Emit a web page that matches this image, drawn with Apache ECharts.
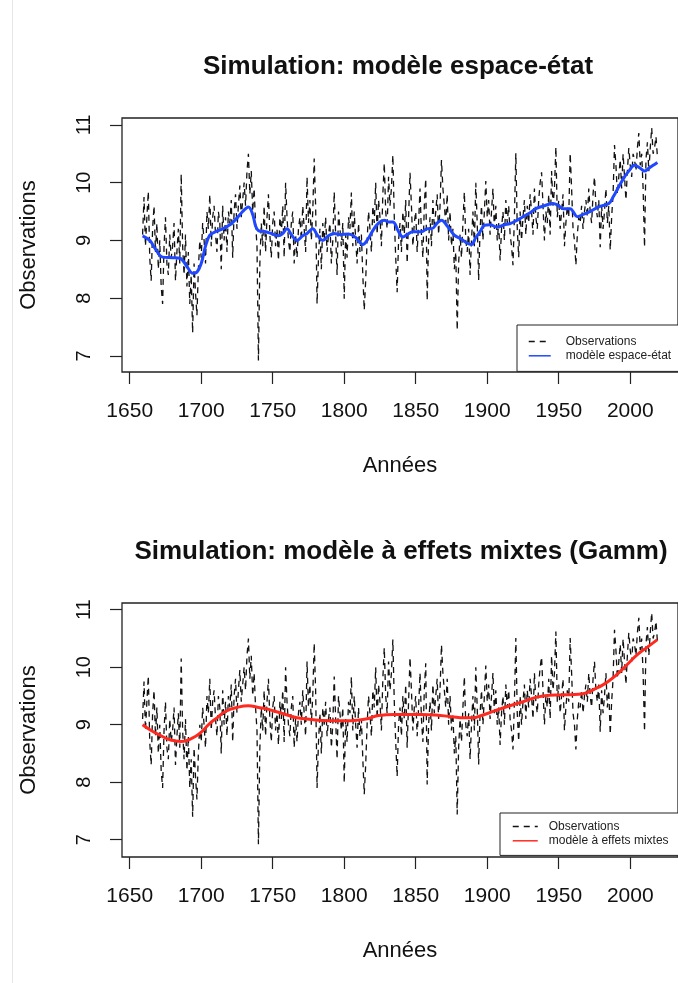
<!DOCTYPE html>
<html><head><meta charset="utf-8">
<script src="https://cdn.jsdelivr.net/npm/echarts@6/dist/echarts.min.js"></script>
<style>html,body{margin:0;padding:0;background:#fff}#c{width:678px;height:983px}</style>
</head><body><div id="c"></div>
<script>
// ---- data ----
const obsStartYear = 1659;
const observations = [
 9.1, 9.75, 8.9, 9.4, 9.85, 8.7, 8.3, 9.2, 9.6, 8.8, 9.3,
 8.5, 9.0, 8.2, 7.9, 8.9, 9.4, 8.6, 8.4, 9.1, 8.7,
 8.9, 9.3, 8.3, 8.8, 9.2, 8.6, 10.15, 8.9, 8.4, 9.1,
 8.2, 8.8, 7.9, 8.4, 7.4, 8.6, 8.1, 7.7, 8.5, 9.0,
 8.7, 9.3, 9.0, 8.6, 9.5, 9.2, 9.8, 8.9, 9.4, 9.6,
 9.1, 8.8, 9.5, 9.3, 8.5, 9.6, 9.0, 9.4, 8.8, 9.5,
 9.3, 9.7, 8.7, 9.5, 9.8, 9.2, 9.6, 9.95, 9.4, 9.7,
 10.0, 9.6, 10.2, 10.5, 9.8, 10.2, 9.5, 9.9, 9.3, 8.9,
 6.92, 8.6, 9.3, 8.9, 9.6, 8.8, 9.4, 9.8, 9.1, 8.7,
 9.3, 9.5, 8.9, 9.2, 8.65, 9.4, 9.1, 9.6, 8.7, 10.0,
 9.4, 9.0, 8.8, 9.3, 9.5, 8.6, 9.1, 8.7, 9.2, 9.4,
 9.0, 9.6, 9.2, 8.8, 10.1, 9.3, 9.7, 9.0, 9.5, 10.42,
 9.6, 7.9, 8.7, 9.2, 8.5, 9.3, 9.0, 9.4, 8.8, 9.1,
 9.3, 8.6, 9.0, 9.84, 9.1, 8.4, 9.5, 9.2, 8.9, 9.3,
 7.99, 9.1, 8.7, 9.4, 9.2, 9.83, 8.9, 9.5, 9.0, 8.6,
 9.3, 8.8, 9.1, 8.4, 7.79, 8.3, 9.0, 9.5, 9.2, 8.8,
 9.6, 9.3, 10.0, 9.1, 9.7, 9.4, 8.9, 9.8, 10.34, 9.5,
 9.2, 10.1, 9.6, 9.9, 10.48, 9.4, 8.7, 8.1, 9.0, 9.3,
 8.8, 9.5, 9.1, 9.7, 8.6, 9.4, 10.17, 9.6, 8.9, 9.3,
 9.5, 8.8, 9.3, 9.9, 9.1, 8.7, 9.6, 10.07, 7.96, 9.0,
 9.4, 8.9, 9.7, 9.2, 9.5, 9.8, 9.1, 9.6, 10.39, 9.9,
 9.6, 9.3, 9.8, 9.0, 9.5, 8.9, 9.2, 8.5, 8.8, 7.44,
 8.6, 9.1, 8.7, 9.3, 9.84, 9.0, 8.8, 9.2, 8.4, 9.0,
 9.5, 8.9, 10.0, 9.3, 8.31, 9.2, 9.6, 9.0, 9.5, 10.03,
 9.4, 9.7, 9.1, 9.5, 9.9, 9.2, 9.6, 9.0, 9.3, 8.65,
 9.2, 9.5, 9.0, 9.7, 9.3, 9.6, 9.1, 8.9, 8.57, 9.4,
 10.51, 9.2, 8.71, 9.5, 9.0, 9.4, 9.7, 9.1, 9.6, 9.3,
 9.8, 9.5, 9.1, 9.9, 9.4, 9.2, 9.7, 10.0, 10.18, 9.6,
 9.0, 9.5, 9.3, 9.8, 9.1, 10.2, 9.6, 9.9, 10.62, 9.4,
 9.7, 9.2, 9.5, 9.8, 8.9, 9.3, 9.6, 9.4, 10.51, 9.9,
 9.2, 9.0, 8.57, 9.1, 9.4, 9.3, 9.6, 9.2, 9.5, 9.7,
 9.4, 9.9, 9.5, 9.3, 9.8, 10.1, 9.6, 9.4, 9.7, 8.88,
 9.6, 9.2, 9.5, 9.9, 9.3, 9.6, 8.83, 9.4, 9.8, 10.65,
 10.3, 9.8, 10.1, 10.4, 9.9, 10.5, 10.51, 9.7, 10.2, 10.6,
 10.3, 10.1, 10.5, 10.4, 10.2, 10.6, 10.86, 10.3, 10.5, 9.9,
 8.88, 10.4, 10.7, 10.2, 10.6, 10.95, 10.5, 10.6, 10.8, 10.45
];
const stateYears = [1659,1664,1668,1673,1680,1685,1690,1694,1697,1700,1703,1706,1710,1715,1720,1724,1729,1733,1736,1738,1740,1745,1749,1754,1757,1760,1763,1767,1771,1774,1778,1781,1785,1789,1793,1797,1803,1808,1813,1816,1820,1824,1828,1831,1834,1838,1841,1844,1848,1854,1858,1861,1865,1868,1872,1877,1882,1886,1889,1892,1895,1898,1902,1907,1912,1916,1921,1925,1930,1934,1940,1946,1950,1953,1958,1960,1963,1967,1971,1978,1985,1988,1992,1996,1999,2003,2007,2010,2013,2016,2019];
const stateValues = [9.08,9.0,8.85,8.71,8.7,8.69,8.55,8.43,8.45,8.6,8.9,9.09,9.15,9.2,9.27,9.36,9.5,9.58,9.45,9.25,9.17,9.15,9.12,9.08,9.12,9.2,9.1,9.0,9.08,9.12,9.2,9.1,9.0,9.08,9.12,9.1,9.11,9.05,8.93,9.0,9.17,9.3,9.35,9.32,9.32,9.15,9.06,9.1,9.15,9.15,9.2,9.2,9.3,9.35,9.25,9.09,9.02,8.95,8.93,9.05,9.15,9.26,9.27,9.23,9.27,9.29,9.35,9.41,9.48,9.55,9.6,9.64,9.6,9.55,9.55,9.5,9.41,9.45,9.49,9.58,9.64,9.75,9.93,10.1,10.2,10.3,10.25,10.2,10.25,10.3,10.35];
const gammYears = [1659,1665,1671,1678,1686,1694,1700,1705,1711,1717,1725,1733,1740,1745,1752,1760,1767,1774,1790,1800,1809,1817,1824,1835,1843,1854,1864,1875,1884,1890,1896,1905,1912,1925,1939,1953,1964,1970,1975,1980,1985,1990,1994,2000,2005,2012,2019];
const gammValues = [9.0,8.9,8.82,8.74,8.71,8.77,8.87,9.0,9.12,9.23,9.3,9.33,9.3,9.28,9.23,9.17,9.12,9.1,9.07,9.07,9.08,9.11,9.16,9.18,9.18,9.18,9.17,9.14,9.12,9.12,9.16,9.24,9.3,9.4,9.5,9.52,9.53,9.56,9.62,9.68,9.76,9.86,9.95,10.1,10.22,10.35,10.48];
const xTicks = [1650,1700,1750,1800,1850,1900,1950,2000];
const yTicks = [7,8,9,10,11];
const titles = ['Simulation: modèle espace-état', 'Simulation: modèle à effets mixtes (Gamm)'];
const smoothNames = ['modèle espace-état', 'modèle à effets mixtes'];

// ---- chart ----
const FONT = '"Liberation Sans", Arial, Helvetica, sans-serif';
const obsData = observations.map((v, i) => [obsStartYear + i, v]);
const stateData = stateYears.map((y, i) => [y, stateValues[i]]);
const gammData = gammYears.map((y, i) => [y, gammValues[i]]);

function xAxisCfg(g) {
  return {
    type: 'value', gridIndex: g, min: 1644.6, max: 2033.4,
    axisLine: { show: false }, splitLine: { show: false },
    axisTick: { show: true, customValues: xTicks, length: 12, lineStyle: { color: '#222', width: 1.2 } },
    axisLabel: { customValues: xTicks, formatter: v => String(v), margin: 29, fontSize: 21, color: '#111', fontFamily: FONT },
    name: 'Années', nameLocation: 'middle', nameGap: 83,
    nameTextStyle: { fontSize: 22, color: '#111', fontFamily: FONT }
  };
}
function yAxisCfg(g, mn, mx) {
  return {
    type: 'value', gridIndex: g, min: mn, max: mx,
    axisLine: { show: false }, splitLine: { show: false },
    axisTick: { show: true, customValues: yTicks, length: 12, lineStyle: { color: '#222', width: 1.2 } },
    axisLabel: { customValues: yTicks, formatter: v => String(v), rotate: 90, margin: 28, fontSize: 20, color: '#111', fontFamily: FONT },
    name: 'Observations', nameLocation: 'middle', nameGap: 82, nameRotate: 90,
    nameTextStyle: { fontSize: 22, color: '#111', fontFamily: FONT }
  };
}
const obsLine = { color: '#111', width: 1.3, type: [6, 5] };

const option = {
  backgroundColor: '#fff',
  animation: false,
  grid: [
    { left: 122, top: 118, width: 565, height: 254, show: true, borderColor: '#222', borderWidth: 1.3, backgroundColor: 'transparent' },
    { left: 122, top: 603, width: 565, height: 254, show: true, borderColor: '#222', borderWidth: 1.3, backgroundColor: 'transparent' }
  ],
  xAxis: [xAxisCfg(0), xAxisCfg(1)],
  yAxis: [yAxisCfg(0, 6.72, 11.12), yAxisCfg(1, 6.70, 11.117)],
  legend: [
    {
      left: 517, top: 325, orient: 'vertical', itemWidth: 22, itemHeight: 14, itemGap: 1,
      padding: [10, 40, 9, 11], borderColor: '#222', borderWidth: 1, backgroundColor: '#fff',
      lineStyle: { width: 1.5 }, itemStyle: { opacity: 0 },
      textStyle: { fontSize: 12, color: '#222', fontFamily: FONT, padding: [0, 0, 0, 10] },
      data: ['Observations', smoothNames[0]], selectedMode: false
    },
    {
      left: 500, top: 813, orient: 'vertical', itemWidth: 25, itemHeight: 14, itemGap: 1,
      padding: [7, 40, 8, 12], borderColor: '#222', borderWidth: 1, backgroundColor: '#fff',
      lineStyle: { width: 1.5 }, itemStyle: { opacity: 0 },
      textStyle: { fontSize: 12, color: '#222', fontFamily: FONT, padding: [0, 0, 0, 6] },
      data: ['Observations', smoothNames[1]], selectedMode: false
    }
  ],
  graphic: [
    { type: 'line', shape: { x1: 12.5, y1: 0, x2: 12.5, y2: 983 }, style: { stroke: '#e6e6e6', lineWidth: 1 } },
    { type: 'text', x: 398, y: 67, style: { text: titles[0], fontSize: 26, fontWeight: 'bold', fontFamily: FONT, fill: '#111', align: 'center', verticalAlign: 'middle' } },
    { type: 'text', x: 401, y: 552, style: { text: titles[1], fontSize: 26, fontWeight: 'bold', fontFamily: FONT, fill: '#111', align: 'center', verticalAlign: 'middle' } }
  ],
  series: [
    { name: 'Observations', type: 'line', xAxisIndex: 0, yAxisIndex: 0, data: obsData, showSymbol: false, lineStyle: obsLine, itemStyle: { color: '#111' }, z: 2 },
    { name: smoothNames[0], type: 'line', xAxisIndex: 0, yAxisIndex: 0, data: stateData, smooth: 0.4, showSymbol: false, lineStyle: { color: '#1f48ff', width: 3 }, itemStyle: { color: '#1f48ff' }, z: 3 },
    { name: 'Observations', type: 'line', xAxisIndex: 1, yAxisIndex: 1, data: obsData, showSymbol: false, lineStyle: obsLine, itemStyle: { color: '#111' }, z: 2 },
    { name: smoothNames[1], type: 'line', xAxisIndex: 1, yAxisIndex: 1, data: gammData, smooth: 0.5, showSymbol: false, lineStyle: { color: '#ff2a1f', width: 3 }, itemStyle: { color: '#ff2a1f' }, z: 3 }
  ]
};
const chart = echarts.init(document.getElementById('c'), null, { renderer: 'canvas' });
chart.setOption(option);
</script>
</body></html>
